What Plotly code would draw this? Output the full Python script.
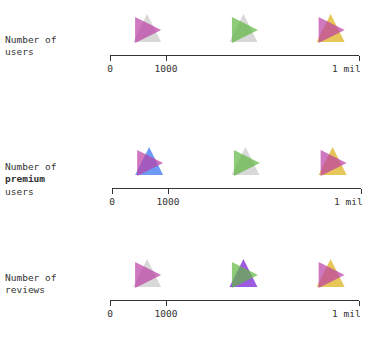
import plotly.graph_objects as go

# ---- data ----
row_labels = ["Number of<br>users", "Number of<br><b>premium</b><br>users", "Number of<br>reviews"]
tick_positions = [0.0, 0.225, 1.0]          # positions on the (non-linear) scale
tick_labels = ["0", "1000", "1 mil"]
up_values = [[0.149, 0.536, 0.886], [0.149, 0.536, 0.886], [0.149, 0.536, 0.886]]
right_values = [[0.153, 0.542, 0.890], [0.153, 0.542, 0.890], [0.153, 0.542, 0.890]]

GRAY = "rgba(199,199,199,0.7)"
PINK = "rgba(186,61,164,0.7)"
GREEN = "rgba(95,182,65,0.7)"
YELLOW = "rgba(219,172,19,0.7)"
BLUE = "rgba(49,111,241,0.7)"
PURPLE = "rgba(115,22,211,0.7)"
up_colors = [[GRAY, GRAY, YELLOW], [BLUE, GRAY, YELLOW], [GRAY, PURPLE, YELLOW]]
right_colors = [[PINK, GREEN, PINK], [PINK, GREEN, PINK], [PINK, GREEN, PINK]]

# ---- layout constants ----
W, H = 373, 357
FONT = "DejaVu Sans Mono"
line_py = [55, 188, 300]
axis_px = [(110, 359), (112, 361), (110, 359)]
label_py = [45, 179, 283]
UP_SIZE, RIGHT_SIZE = 28, 26
band = 50

fig = go.Figure()
layout = dict(width=W, height=H, margin=dict(l=0, r=0, t=0, b=0, autoexpand=False),
              paper_bgcolor="white", plot_bgcolor="white", showlegend=False,
              font=dict(family=FONT, size=9.5, color="#333"))
annotations = []
for i in range(3):
    sfx = "" if i == 0 else str(i + 1)
    x0, x1 = axis_px[i]
    ly = line_py[i]
    # last tick label is drawn right-aligned (as in the reference) via an annotation
    shown_text = tick_labels[:-1] + [""]
    layout["xaxis" + sfx] = dict(
        domain=[x0 / W, x1 / W], anchor="y" + sfx, range=[0, 1], automargin=False,
        tickvals=tick_positions, ticktext=shown_text,
        showline=True, linecolor="#333", linewidth=1,
        ticks="outside", ticklen=5, tickcolor="#333", tickwidth=1,
        showgrid=False, zeroline=False, fixedrange=True,
        tickfont=dict(family=FONT, size=9.5, color="#333"))
    layout["yaxis" + sfx] = dict(
        domain=[1 - ly / H, 1 - (ly - band) / H], anchor="x" + sfx, automargin=False,
        range=[0, band], visible=False, fixedrange=True)
    px_len = x1 - x0
    fig.add_trace(go.Scatter(
        x=up_values[i], y=[41] * len(up_values[i]), mode="markers",
        xaxis="x" + sfx, yaxis="y" + sfx, cliponaxis=False, hoverinfo="skip",
        marker=dict(symbol="arrow-up", size=UP_SIZE, color=up_colors[i], line=dict(width=0))))
    fig.add_trace(go.Scatter(
        x=[v + (RIGHT_SIZE / 2) / px_len for v in right_values[i]],
        y=[25] * len(right_values[i]), mode="markers",
        xaxis="x" + sfx, yaxis="y" + sfx, cliponaxis=False, hoverinfo="skip",
        marker=dict(symbol="arrow-right", size=RIGHT_SIZE, color=right_colors[i], line=dict(width=0))))
    annotations.append(dict(
        text=row_labels[i], xref="paper", yref="paper", x=3 / W, y=1 - label_py[i] / H,
        xanchor="left", yanchor="middle", align="left", showarrow=False,
        font=dict(family=FONT, size=9.5, color="#333")))
    annotations.append(dict(
        text=tick_labels[-1], xref="x" + sfx, yref="paper", x=tick_positions[-1],
        y=1 - (ly + 13) / H,
        xanchor="right", yanchor="middle", xshift=4, showarrow=False,
        font=dict(family=FONT, size=9.5, color="#333")))

layout["annotations"] = annotations
fig.update_layout(**layout)
fig.write_html("out.html", config={"displayModeBar": False},
               post_script="document.body.style.margin='0px';document.body.style.overflow='hidden';")
